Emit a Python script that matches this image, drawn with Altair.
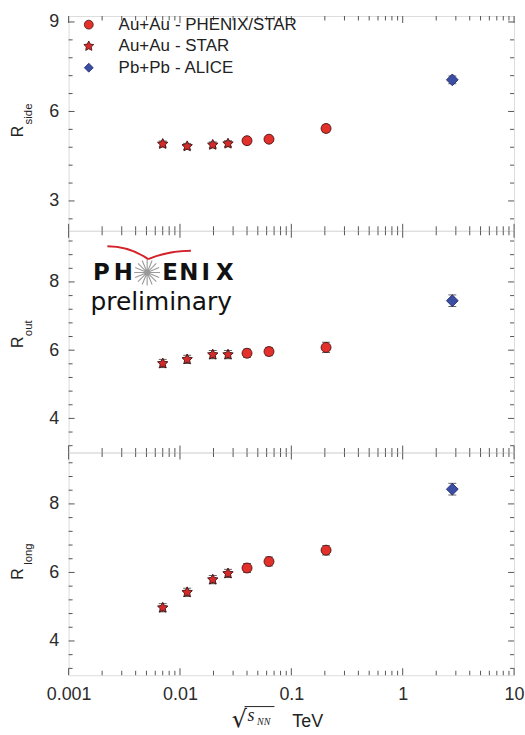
import math
import altair as alt
import pandas as pd

# ---------------- data ----------------
energy_tev = [0.0070, 0.0116, 0.0197, 0.0270, 0.0400, 0.0630, 0.2050, 2.79]
series = ["Au+Au - PHENIX/STAR", "Au+Au - STAR", "Pb+Pb - ALICE"]
legend_systems = ["Au+Au", "Au+Au", "Pb+Pb"]
legend_experiments = ["- PHENIX/STAR", "- STAR", "- ALICE"]
point_series = [series[1]] * 4 + [series[0]] * 3 + [series[2]]

r_side = [4.91, 4.83, 4.88, 4.92, 5.02, 5.07, 5.43, 7.06]
r_side_err = [0.10, 0.10, 0.10, 0.10, 0.10, 0.10, 0.12, 0.13]
r_out = [5.61, 5.73, 5.87, 5.87, 5.91, 5.96, 6.08, 7.45]
r_out_err = [0.12, 0.12, 0.12, 0.12, 0.12, 0.12, 0.15, 0.17]
r_long = [4.97, 5.42, 5.79, 5.97, 6.13, 6.32, 6.65, 8.43]
r_long_err = [0.12, 0.12, 0.12, 0.12, 0.13, 0.13, 0.14, 0.17]

x_major = [0.001, 0.01, 0.1, 1, 10]
x_minor = [k * 10.0 ** e for e in range(-3, 1) for k in range(2, 10)]
side_major = [3, 6, 9]
side_minor = [2.4, 3.6, 4.2, 4.8, 5.4, 6.6, 7.2, 7.8, 8.4]
ol_major = [4, 6, 8]
ol_minor = [3.2, 3.6, 4.4, 4.8, 5.2, 5.6, 6.4, 6.8, 7.2, 7.6, 8.4, 8.8, 9.2]

# ---------------- styling ----------------
W = 448
FONT = "Liberation Sans"
TICK = "#555555"
LABEL = "#2b2b2b"


def star_path(n=5, outer=1.0, inner=0.5):
    pts = []
    for i in range(2 * n):
        r = outer if i % 2 == 0 else inner
        a = math.pi * i / n
        pts.append(f"{r * math.sin(a):.3f},{-r * math.cos(a):.3f}")
    return "M" + " L".join(pts) + " Z"


def spokes_path(n=8):
    segs = []
    for i in range(n):
        a = math.pi * i / n
        x, y = math.sin(a), -math.cos(a)
        segs.append(f"M{x:.3f},{y:.3f} L{-x:.3f},{-y:.3f}")
    return " ".join(segs)


STAR = star_path()
shape_scale = alt.Scale(domain=series, range=["circle", STAR, "diamond"])
fill_scale = alt.Scale(domain=series, range=["#e3302a", "#d42a2a", "#3b4ea3"])
stroke_scale = alt.Scale(domain=series, range=["#4a1414", "#3a1010", "#1f2b6b"])
size_scale = alt.Scale(domain=series, range=[100, 140, 110])

xscale = alt.Scale(type="log", domain=[0.001, 10], nice=False)


def make_panel(values, errs, domain, ymaj, ymin, height, sym, sub, title_y, sub_y,
               show_x=False, extra=None):
    ysc = alt.Scale(domain=domain, nice=False, zero=False)
    yax = alt.Axis(values=ymaj, ticks=False, domain=False, grid=False, title=None,
                   labelFontSize=18, labelPadding=10, labelColor=LABEL, labelFont=FONT)
    if show_x:
        xax = alt.Axis(values=x_major, format="~g", ticks=False, domain=False, grid=False,
                       title=None, labelFontSize=18, labelPadding=10, labelColor=LABEL,
                       labelFont=FONT, labelFlush=False, labelOverlap=False, labelBound=False)
    else:
        xax = None

    def X(f):
        return alt.X(f, type="quantitative", scale=xscale, axis=xax)

    def Y(f):
        return alt.Y(f, type="quantitative", scale=ysc, axis=yax)

    layers = []
    # inward ticks on all four sides
    for vals, L in [(x_major, 7), (x_minor, 4.5)]:
        base = alt.Chart(pd.DataFrame({"v": vals})).mark_rule(color=TICK, strokeWidth=1)
        layers.append(base.encode(x=X("v"), y=alt.value(height), y2=alt.value(height - L)))
        layers.append(base.encode(x=X("v"), y=alt.value(0), y2=alt.value(L)))
    for vals, L in [(ymaj, 6), (ymin, 4)]:
        base = alt.Chart(pd.DataFrame({"v": vals})).mark_rule(color=TICK, strokeWidth=1)
        layers.append(base.encode(y=Y("v"), x=alt.value(0), x2=alt.value(L)))
        layers.append(base.encode(y=Y("v"), x=alt.value(W), x2=alt.value(W - L)))

    df = pd.DataFrame({
        "E": energy_tev,
        "R": values,
        "lo": [v - e for v, e in zip(values, errs)],
        "hi": [v + e for v, e in zip(values, errs)],
        "exp": point_series,
    })
    base = alt.Chart(df)
    layers.append(base.mark_rule(color="#222222", strokeWidth=1).encode(
        x=X("E"), y=Y("lo"), y2="hi"))
    for f in ["lo", "hi"]:
        layers.append(base.mark_tick(orient="horizontal", size=8, thickness=1,
                                     color="#222222").encode(x=X("E"), y=Y(f)))
    layers.append(base.mark_point(filled=True, opacity=1, strokeWidth=0.9).encode(
        x=X("E"), y=Y("R"),
        shape=alt.Shape("exp:N", scale=shape_scale, legend=None),
        fill=alt.Fill("exp:N", scale=fill_scale, legend=None),
        stroke=alt.Stroke("exp:N", scale=stroke_scale, legend=None),
        size=alt.Size("exp:N", scale=size_scale, legend=None),
    ))

    # rotated axis title with subscript
    layers.append(alt.Chart(pd.DataFrame({"t": [sym]})).mark_text(
        angle=270, align="left", baseline="alphabetic", fontSize=16, font=FONT,
        color="#222222").encode(text="t:N", x=alt.value(-45.5), y=alt.value(title_y)))
    layers.append(alt.Chart(pd.DataFrame({"t": [sub]})).mark_text(
        angle=270, align="left", baseline="alphabetic", fontSize=11.5, font=FONT,
        color="#222222").encode(text="t:N", x=alt.value(-37), y=alt.value(sub_y)))

    if extra:
        layers.extend(extra)
    return alt.layer(*layers).properties(width=W, height=height)


# ---------- top panel extras: legend + layout anchor ----------
top_extra = [
    alt.Chart(pd.DataFrame({"a": [0]})).mark_rule(strokeOpacity=0, color="white").encode(
        x=alt.value(-68), x2=alt.value(-67), y=alt.value(-13), y2=alt.value(-12))
]
for i, (s, sysname, expname) in enumerate(zip(series, legend_systems, legend_experiments)):
    yy = 8.7 + 21.65 * i
    ldf = pd.DataFrame({"exp": [s], "a": [sysname], "b": [expname]})
    top_extra.append(alt.Chart(ldf).mark_point(filled=True, opacity=1, strokeWidth=0.8).encode(
        x=alt.value(20.3), y=alt.value(yy),
        shape=alt.Shape("exp:N", scale=shape_scale, legend=None),
        fill=alt.Fill("exp:N", scale=fill_scale, legend=None),
        stroke=alt.Stroke("exp:N", scale=stroke_scale, legend=None),
        size=alt.value(80 if i != 1 else 110)))
    top_extra.append(alt.Chart(ldf).mark_text(align="left", baseline="middle", fontSize=17,
                                             font=FONT, color="#222222").encode(
        text="a:N", x=alt.value(50.3), y=alt.value(yy)))
    top_extra.append(alt.Chart(ldf).mark_text(align="left", baseline="middle", fontSize=17,
                                             font=FONT, color="#222222").encode(
        text="b:N", x=alt.value(107), y=alt.value(yy)))

# ---------- middle panel extras: PHENIX preliminary logo ----------
logo_letters = ["P", "H", "E", "N", "I", "X"]
logo_x = [33, 55, 102, 121, 138, 157]
mid_extra = []
for ch, lx in zip(logo_letters, logo_x):
    mid_extra.append(alt.Chart(pd.DataFrame({"t": [ch]})).mark_text(
        align="center", baseline="alphabetic", fontSize=23, font="DejaVu Sans",
        fontWeight="bold", color="#111111").encode(text="t:N", x=alt.value(lx), y=alt.value(50)))
mid_extra.append(alt.Chart(pd.DataFrame({"a": [0]})).mark_point(
    shape=spokes_path(), filled=False, stroke="#9a9a9a", strokeWidth=1.1, opacity=1).encode(
    x=alt.value(79), y=alt.value(42), size=alt.value(680)))
mid_extra.append(alt.Chart(pd.DataFrame({"t": ["preliminary"]})).mark_text(
    align="left", baseline="alphabetic", fontSize=25, font="DejaVu Sans",
    color="#111111").encode(text="t:N", x=alt.value(22), y=alt.value(80)))
mid_extra.append(alt.Chart(pd.DataFrame({"a": [0]})).mark_arc(color="#d3222a").encode(
    x=alt.value(39), y=alt.value(86.6), theta=alt.value(0), theta2=alt.value(0.614),
    radius=alt.value(72.1), radius2=alt.value(70.1)))
mid_extra.append(alt.Chart(pd.DataFrame({"a": [0]})).mark_arc(color="#d3222a").encode(
    x=alt.value(123), y=alt.value(132.9), theta=alt.value(5.892), theta2=alt.value(6.2832),
    radius=alt.value(113.9), radius2=alt.value(111.9)))

# ---------- bottom panel extras: x-axis title sqrt(s_NN) TeV ----------
bot_extra = [
    alt.Chart(pd.DataFrame({"t": ["\u221a"]})).mark_text(
        align="left", baseline="alphabetic", fontSize=24, font="DejaVu Sans",
        color="#222222").encode(text="t:N", x=alt.value(164), y=alt.value(276)),
    alt.Chart(pd.DataFrame({"a": [0]})).mark_rule(color="#222222", strokeWidth=1).encode(
        x=alt.value(177), x2=alt.value(207), y=alt.value(255.5)),
    alt.Chart(pd.DataFrame({"t": ["s"]})).mark_text(
        align="left", baseline="alphabetic", fontSize=18, font="Liberation Serif",
        fontStyle="italic", color="#222222").encode(text="t:N", x=alt.value(180), y=alt.value(270)),
    alt.Chart(pd.DataFrame({"t": ["NN"]})).mark_text(
        align="left", baseline="alphabetic", fontSize=10, font="Liberation Serif",
        fontStyle="italic", color="#222222").encode(text="t:N", x=alt.value(189.5), y=alt.value(274)),
    alt.Chart(pd.DataFrame({"t": ["TeV"]})).mark_text(
        align="left", baseline="alphabetic", fontSize=18, font=FONT,
        color="#222222").encode(text="t:N", x=alt.value(225), y=alt.value(276)),
]

top = make_panel(r_side, r_side_err, [2.0, 9.2], side_major, side_minor, 216,
                 "R", "side", 122, 109, extra=top_extra)
mid = make_panel(r_out, r_out_err, [3.0, 9.5], ol_major, ol_minor, 223,
                 "R", "out", 118, 106, extra=mid_extra)
bot = make_panel(r_long, r_long_err, [3.0, 9.5], ol_major, ol_minor, 224,
                 "R", "long", 128, 113, show_x=True, extra=bot_extra)

chart = alt.VConcatChart(vconcat=[top, mid, bot], spacing=0, bounds="flush", padding=0,
                         background="white")
chart = chart.configure_view(stroke="#444444", strokeWidth=1).configure(font=FONT)

chart.save("out.html", embed_options={"renderer": "svg", "actions": False})
